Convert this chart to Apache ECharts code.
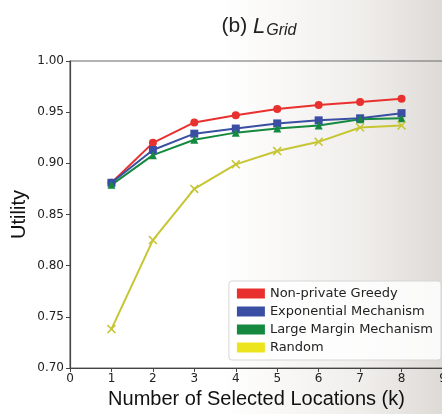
<!DOCTYPE html>
<html>
<head>
<meta charset="utf-8">
<script src="https://cdn.jsdelivr.net/npm/echarts@6/dist/echarts.min.js"></script>
<style>
html,body{margin:0;padding:0;background:#fff}
#chart{width:442px;height:414px}
</style>
</head>
<body>
<div id="chart"></div>
<script>
const ks = [1,2,3,4,5,6,7,8];
const greedy = [0.881,0.920,0.940,0.947,0.953,0.957,0.960,0.963];
const expMech = [0.881,0.913,0.929,0.934,0.939,0.942,0.944,0.949];
const largeMargin = [0.879,0.908,0.923,0.930,0.934,0.937,0.943,0.944];
const randomSel = [0.738,0.825,0.875,0.899,0.912,0.921,0.935,0.937];
const xTicks = [0,1,2,3,4,5,6,7,8,9];
const yTicks = [0.70,0.75,0.80,0.85,0.90,0.95,1.00];

const xMark = "path://M0,1.2L1.2,0L5,3.8L8.8,0L10,1.2L6.2,5L10,8.8L8.8,10L5,6.2L1.2,10L0,8.8L3.8,5Z";
const pts = arr => arr.map((v,i) => [ks[i], v]);

const chart = echarts.init(document.getElementById("chart"));
const font = "DejaVu Sans";
const lines = [
  {name:"Non-private Greedy", data:greedy, color:"#e8312f", legend:"#e8312f", symbol:"circle", size:8},
  {name:"Exponential Mechanism", data:expMech, color:"#3a4fa3", legend:"#3a4fa3", symbol:"rect", size:8},
  {name:"Large Margin Mechanism", data:largeMargin, color:"#15893f", legend:"#15893f", symbol:"triangle", size:8},
  {name:"Random", data:randomSel, color:"#c6c532", legend:"#ece41c", symbol:xMark, size:9}
];

chart.setOption({
  backgroundColor:{type:"linear",x:0,y:0,x2:1,y2:0,colorStops:[
    {offset:0,color:"#ffffff"},{offset:0.5,color:"#ffffff"},{offset:0.82,color:"#f0eeeb"},{offset:1,color:"#dedbd7"}]},
  animation:false,
  title:{
    text:"{a|(b) }{l|L}{s|Grid}",
    left:254, top:9, textAlign:"center",
    textStyle:{fontWeight:"normal",rich:{
      a:{fontFamily:"Liberation Sans",fontSize:21,fontWeight:"normal",color:"#222"},
      l:{fontFamily:"Liberation Sans",fontSize:22,fontStyle:"italic",fontWeight:"normal",color:"#222"},
      s:{fontFamily:"Liberation Sans",fontSize:16,fontStyle:"italic",fontWeight:"normal",color:"#222",padding:[9,0,0,1]}
    }}
  },
  legend:{
    right:1, top:281, orient:"vertical", itemGap:5, itemWidth:28, itemHeight:10,
    padding:[6,8,6,8],
    backgroundColor:"rgba(255,255,255,0.85)", borderColor:"#d6d6d6", borderWidth:1, borderRadius:3,
    textStyle:{fontFamily:font,fontSize:13,color:"#222"},
    data:lines.map(l => ({name:l.name, icon:"rect", itemStyle:{color:l.legend}}))
  },
  grid:{left:70,right:-1,top:61,bottom:46,outerBoundsMode:"none",containLabel:false,
    show:true,borderColor:"#6a6a6a",borderWidth:1.2,backgroundColor:"transparent"},
  xAxis:{
    type:"value", min:xTicks[0], max:xTicks[xTicks.length-1], interval:1,
    name:"Number of Selected Locations (k)", nameLocation:"middle", nameGap:21,
    nameTextStyle:{fontFamily:"Liberation Sans",fontSize:20,color:"#111"},
    axisLine:{lineStyle:{color:"#444",width:1.2}},
    axisTick:{show:true,length:4,inside:false,lineStyle:{color:"#444"}},
    axisLabel:{fontFamily:font,fontSize:12,color:"#222",margin:5,showMaxLabel:true},
    splitLine:{show:false}
  },
  yAxis:{
    type:"value", min:yTicks[0], max:yTicks[yTicks.length-1], interval:0.05,
    name:"Utility", nameLocation:"middle", nameGap:41, nameMoveOverlap:false,
    nameTextStyle:{fontFamily:"Liberation Sans",fontSize:20,color:"#111"},
    axisLine:{show:true,lineStyle:{color:"#444",width:1.2}},
    axisTick:{show:true,length:4,lineStyle:{color:"#444"}},
    axisLabel:{fontFamily:font,fontSize:12,color:"#222",margin:6,formatter:v => v.toFixed(2)},
    splitLine:{show:false}
  },
  series:lines.map(l => ({
    name:l.name, type:"line", data:pts(l.data),
    symbol:l.symbol, symbolSize:l.size, showSymbol:true,
    lineStyle:{color:l.color,width:2},
    itemStyle:{color:l.color}
  }))
});
</script>
</body>
</html>
